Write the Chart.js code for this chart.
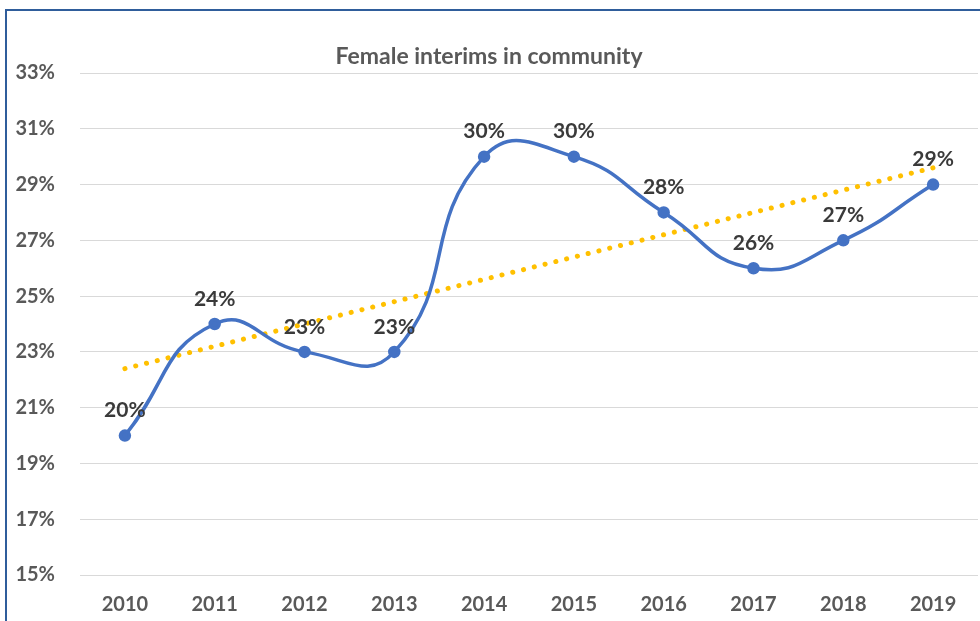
<!DOCTYPE html>
<html>
<head>
<meta charset="utf-8">
<script src="https://cdn.jsdelivr.net/npm/chart.js@4"></script>
<style>
  html, body { margin: 0; padding: 0; background: #fff; }
  #wrap { position: relative; width: 980px; height: 621px; overflow: hidden; }
  #frame {
    position: absolute; left: 5px; top: 9px; width: 1000px; height: 700px;
    border-left: 2px solid #2f5d9b; border-top: 2px solid #2f5d9b;
  }
  canvas { position: absolute; left: 0; top: 0; }
</style>
</head>
<body>
<div id="wrap">
  <div id="frame"></div>
  <canvas id="chart" width="980" height="621"></canvas>
</div>
<script>
const years = ["2010", "2011", "2012", "2013", "2014", "2015", "2016", "2017", "2018", "2019"];
const interimShare = [20, 24, 23, 23, 30, 30, 28, 26, 27, 29];
// linear trend at both ends
const trendStart = 22.4;
const trendEnd = 29.6;

const trendData = years.map((y, i) => {
  if (i === 0) return trendStart;
  if (i === years.length - 1) return trendEnd;
  return null;
});

const fontFamily = "Lato, 'Open Sans', sans-serif";

// simple value labels above the points
const valueLabels = {
  id: "valueLabels",
  afterDatasetsDraw(chart) {
    const ctx = chart.ctx;
    const meta = chart.getDatasetMeta(0);
    ctx.save();
    ctx.font = "bold 21px " + fontFamily;
    ctx.fillStyle = "#3a3a3a";
    ctx.textAlign = "center";
    ctx.textBaseline = "middle";
    meta.data.forEach((pt, i) => {
      ctx.fillText(interimShare[i] + "%", pt.x, pt.y - 25);
    });
    ctx.restore();
  }
};

const chart = new Chart(document.getElementById("chart"), {
  type: "line",
  data: {
    labels: years,
    datasets: [
      {
        label: "Female interims",
        data: interimShare,
        borderColor: "#4472C4",
        backgroundColor: "#4472C4",
        borderWidth: 3.5,
        pointRadius: 4.5,
        pointHoverRadius: 4.5,
        tension: 0.5,
        order: 1
      },
      {
        label: "Trend",
        data: trendData,
        spanGaps: true,
        borderColor: "#FFC000",
        borderWidth: 5,
        borderDash: [0.1, 11],
        borderCapStyle: "round",
        pointRadius: 0,
        tension: 0,
        order: 2
      }
    ]
  },
  options: {
    responsive: false,
    animation: false,
    layout: { autoPadding: false, padding: { left: 0, right: 2, top: 0, bottom: 0 } },
    plugins: {
      legend: { display: false },
      tooltip: { enabled: false },
      title: {
        display: true,
        text: "Female interims in community",
        color: "#595959",
        font: { family: fontFamily, size: 23, weight: "bold" },
        padding: { top: 43, bottom: 2.4 }
      }
    },
    scales: {
      x: {
        offset: true,
        grid: { display: false, drawTicks: false },
        border: { display: false },
        ticks: {
          color: "#595959",
          font: { family: fontFamily, size: 20, weight: "bold" },
          padding: 18,
          maxRotation: 0
        },
        afterFit(scale) {
          scale.height = 46;
          scale.paddingLeft = 0;
          scale.paddingRight = 0;
        }
      },
      y: {
        min: 15,
        max: 33,
        grid: { color: "#d9d9d9", lineWidth: 1, drawTicks: false },
        border: { display: false },
        ticks: {
          stepSize: 2,
          color: "#595959",
          font: { family: fontFamily, size: 20, weight: "bold" },
          padding: 25,
          callback: v => v + "%"
        },
        afterFit(scale) { scale.width = 80; }
      }
    }
  },
  plugins: [valueLabels]
});
</script>
</body>
</html>
